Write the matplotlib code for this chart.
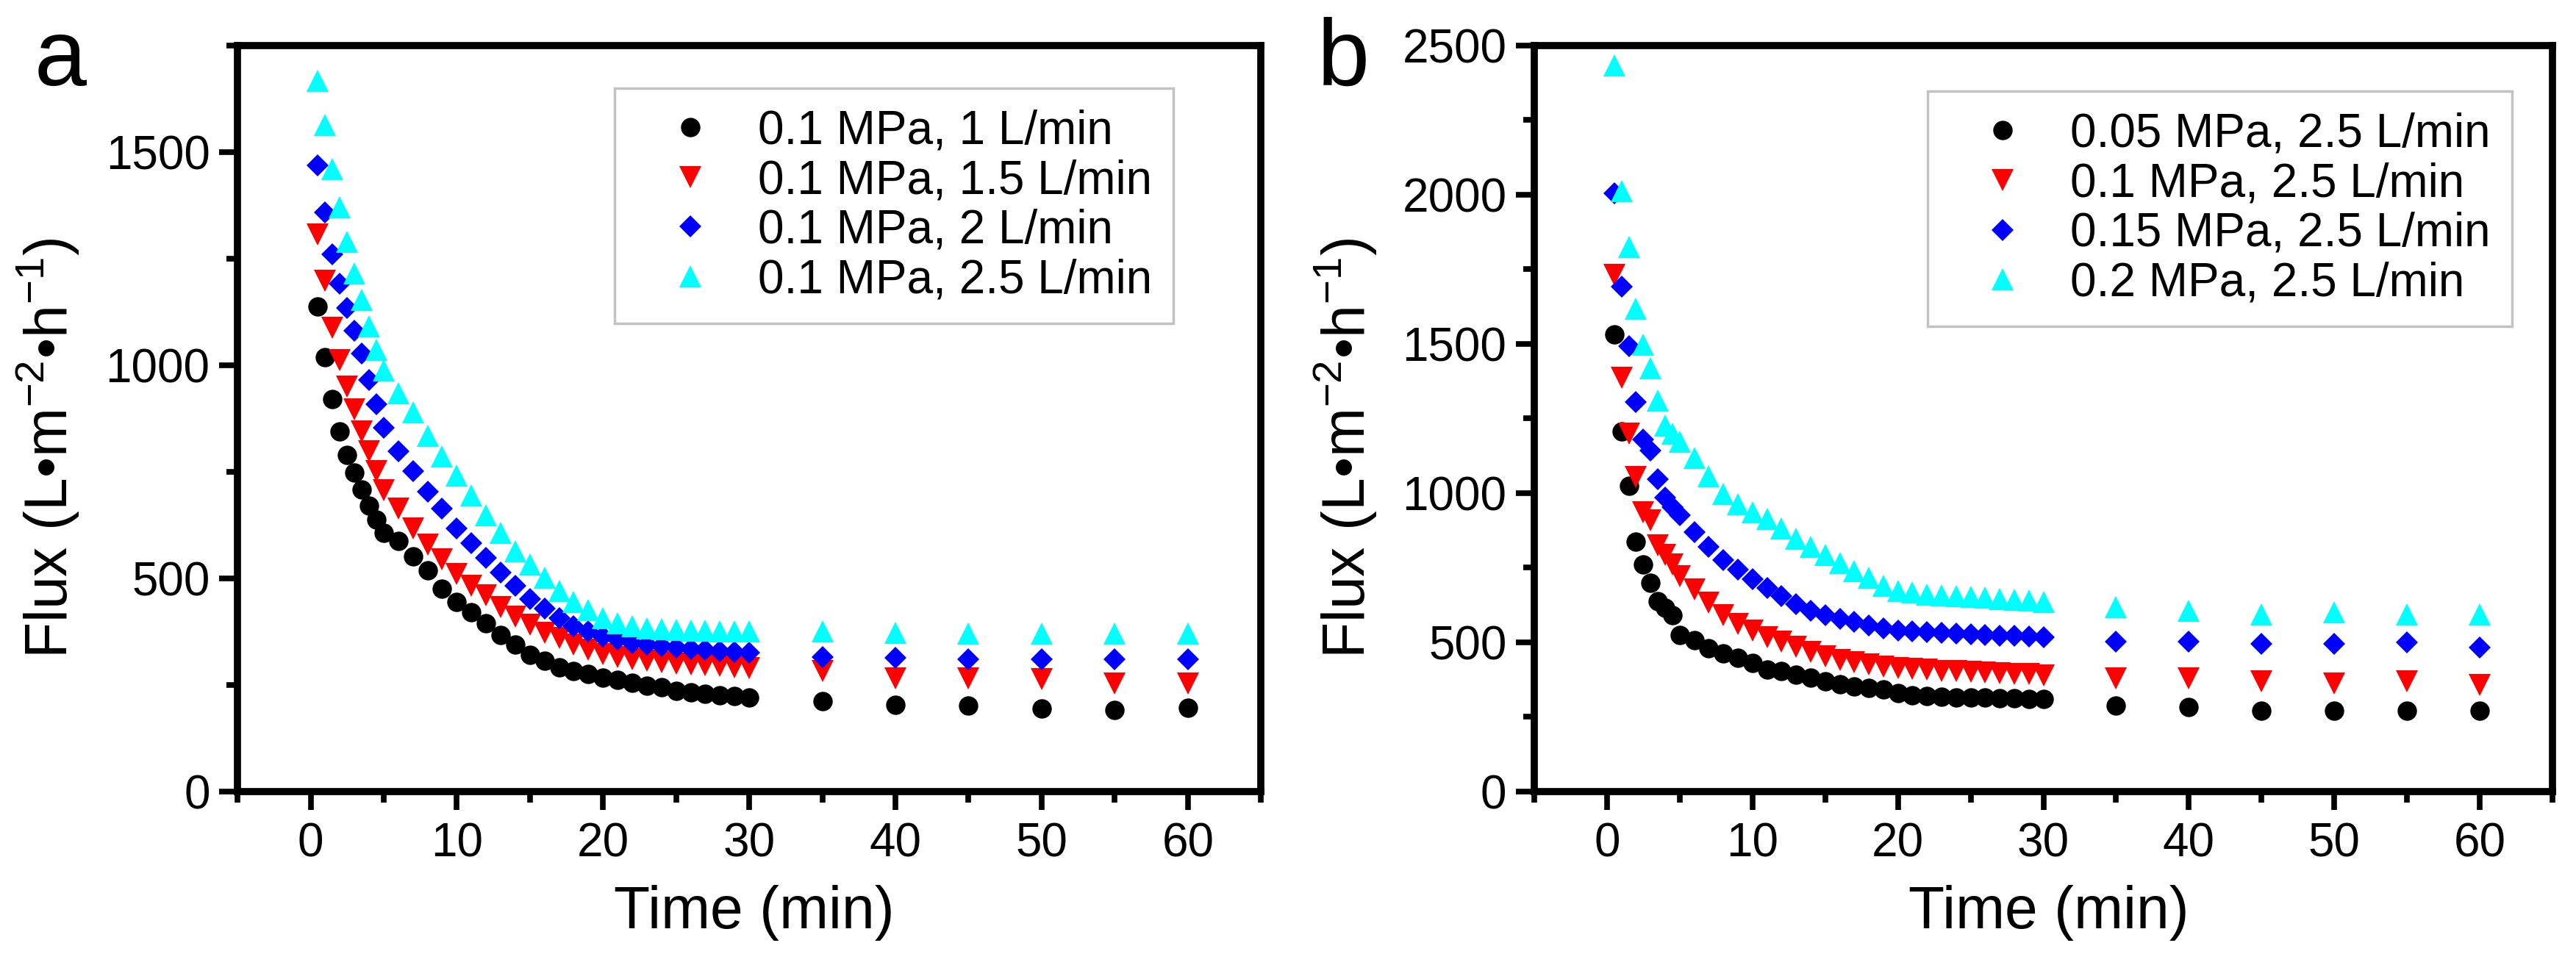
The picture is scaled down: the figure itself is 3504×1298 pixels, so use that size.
import matplotlib
matplotlib.use("Agg")
import matplotlib.pyplot as plt
from matplotlib.ticker import MultipleLocator

plt.rcParams['font.family'] = ['Liberation Sans', 'DejaVu Sans']
plt.rcParams['mathtext.fontset'] = 'custom'
plt.rcParams['mathtext.rm'] = 'Liberation Sans'

# time points (min)
times = [0.5, 1, 1.5, 2, 2.5, 3, 3.5, 4, 4.5, 5,
         6, 7, 8, 9, 10, 11, 12, 13, 14, 15, 16, 17, 18, 19, 20,
         21, 22, 23, 24, 25, 26, 27, 28, 29, 30,
         35, 40, 45, 50, 55, 60]

# panel a: 0.1 MPa, varying cross-flow rate
labels_a = ["0.1 MPa, 1 L/min", "0.1 MPa, 1.5 L/min", "0.1 MPa, 2 L/min", "0.1 MPa, 2.5 L/min"]
flux_a_1 = [1138, 1019, 921, 844, 789, 748, 709, 671, 637, 606,
            587, 552, 518, 475, 444, 421, 394, 368, 344, 321,
            306, 291, 283, 275, 268, 262, 255, 249, 245, 236,
            233, 229, 226, 224, 221,
            212, 204, 201, 194, 191, 196]
flux_a_15 = [1307, 1199, 1088, 1012, 950, 896, 844, 799, 752, 707,
             663, 617, 579, 544, 510, 483, 460, 433, 410, 391,
             372, 360, 345, 333, 322, 315, 310, 306, 303, 300,
             298, 296, 294, 292, 290,
             282, 266, 265, 263, 254, 254]
flux_a_2 = [1468, 1358, 1261, 1192, 1134, 1081, 1028, 965, 908, 854,
            798, 752, 704, 663, 617, 583, 548, 514, 483, 452,
            429, 406, 387, 375, 364, 356, 349, 345, 341, 338,
            335, 332, 330, 327, 325,
            316, 314, 311, 311, 311, 311]
flux_a_25 = [1667, 1564, 1460, 1370, 1290, 1215, 1153, 1092, 1036, 988,
             935, 889, 835, 786, 741, 695, 648, 606, 564, 533,
             502, 471, 444, 425, 406, 394, 387, 383, 381, 379,
             378, 377, 376, 376, 375,
             376, 372, 371, 370, 370, 370]

# panel b: 2.5 L/min, varying pressure
labels_b = ["0.05 MPa, 2.5 L/min", "0.1 MPa, 2.5 L/min", "0.15 MPa, 2.5 L/min", "0.2 MPa, 2.5 L/min"]
flux_b_005 = [1531, 1206, 1025, 837, 761, 700, 639, 616, 590, 525,
              508, 480, 463, 447, 431, 409, 403, 392, 381, 370,
              359, 353, 348, 342, 331, 322, 319, 317, 316, 315,
              314, 313, 312, 311, 309,
              288, 283, 271, 271, 271, 271]
flux_b_01 = [1731, 1386, 1199, 1053, 936, 909, 826, 793, 761, 722,
             677, 633, 590, 562, 540, 518, 502, 485, 469, 453,
             441, 433, 425, 419, 414, 411, 408, 405, 403, 401,
             399, 397, 395, 393, 390,
             378, 378, 370, 362, 370, 358]
flux_b_015 = [2005, 1692, 1493, 1306, 1179, 1142, 1047, 986, 953, 926,
              870, 820, 776, 744, 711, 683, 655, 628, 606, 590,
              579, 568, 557, 546, 540, 537, 534, 531, 529, 527,
              525, 523, 521, 520, 518,
              502, 502, 496, 496, 500, 483]
flux_b_02 = [2434, 2011, 1824, 1617, 1498, 1418, 1311, 1226, 1200, 1172,
             1118, 1057, 997, 964, 936, 913, 881, 848, 820, 793,
             765, 738, 717, 689, 673, 667, 661, 658, 655, 652,
             649, 646, 643, 640, 636,
             619, 606, 594, 602, 594, 594]

colors = ["#000000", "#ff0000", "#0000ff", "#00ffff"]
markers = ["o", "v", "D", "^"]
msizes = [19, 21, 15, 21]


def draw_panel(ax, series, labels, ymax, leg_anchor):
    for vals, lab, c, m, ms in zip(series, labels, colors, markers, msizes):
        ax.plot(times, vals, linestyle="none", marker=m, markersize=ms,
                color=c, markeredgewidth=0, label=lab)
    ax.set_xlim(-5, 65)
    ax.set_ylim(0, ymax)
    ax.xaxis.set_major_locator(MultipleLocator(10))
    ax.xaxis.set_minor_locator(MultipleLocator(5))
    ax.yaxis.set_major_locator(MultipleLocator(500))
    ax.yaxis.set_minor_locator(MultipleLocator(250))
    for s in ax.spines.values():
        s.set_linewidth(7)
    ax.tick_params(which="major", direction="out", length=18, width=5.5,
                   labelsize=46, pad=9)
    ax.tick_params(which="minor", direction="out", length=11, width=5.5)
    ax.tick_params(axis="x", which="major", pad=12)
    ax.set_xlabel("Time (min)", fontsize=58)
    ax.set_ylabel(r"Flux (L•m$^{\mathregular{-2}}$•h$^{\mathregular{-1}}$)", fontsize=58)
    ax.xaxis.set_label_coords(0.505, -0.125)
    ax.yaxis.set_label_coords(-0.152, 0.46)
    leg = ax.legend(loc="upper right", bbox_to_anchor=leg_anchor, fontsize=46,
                    frameon=True, fancybox=False, edgecolor="#b4b4b4",
                    borderpad=0.45, handlelength=2.3, handletextpad=0.3,
                    labelspacing=0.12, borderaxespad=0)
    leg.get_frame().set_linewidth(2.5)


fig = plt.figure(figsize=(35.04, 12.98), dpi=100)
ax_a = fig.add_axes([0.0922, 0.1703, 0.3973, 0.782])
ax_b = fig.add_axes([0.5956, 0.1703, 0.3953, 0.782])

draw_panel(ax_a, [flux_a_1, flux_a_15, flux_a_2, flux_a_25], labels_a, 1750, (0.9145, 0.943))
draw_panel(ax_b, [flux_b_005, flux_b_01, flux_b_015, flux_b_02], labels_b, 2500, (0.960, 0.939))

fig.text(47 / 3504, 1 - 116 / 1298, "a", fontsize=92, va="baseline")
fig.text(1792 / 3504, 1 - 116 / 1298, "b", fontsize=92, va="baseline")

fig.savefig("out.png", dpi=100)
